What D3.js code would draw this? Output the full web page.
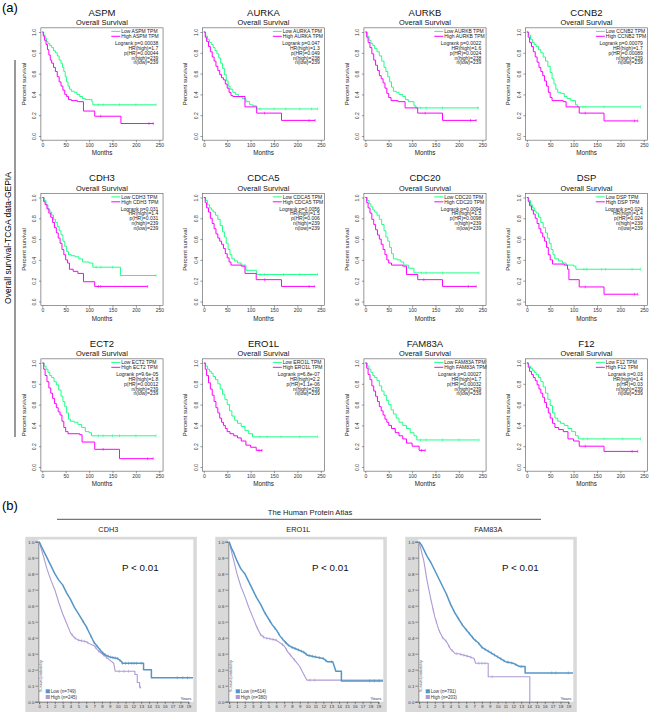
<!DOCTYPE html>
<html><head><meta charset="utf-8">
<script src="https://cdn.jsdelivr.net/npm/d3@7"></script>
<style>body{margin:0;background:#fff}svg{display:block;font-family:"Liberation Sans",Arial,sans-serif}</style>
</head><body><svg id="c" width="650" height="714"></svg>
<script>
// ---------- (a) GEPIA data ----------
const gepiaGenes = ["ASPM","AURKA","AURKB","CCNB2","CDH3","CDCA5","CDC20","DSP","ECT2","ERO1L","FAM83A","F12"];
const gepiaLogrank = ["0.00038","0.047","0.0022","0.00079","0.031","0.0056","0.0094","0.024","9.6e-05","6.8e-07","0.00027","0.03"];
const gepiaHR = ["1.7","1.3","1.6","1.7","1.4","1.5","1.5","1.4","1.8","2.2","1.7","1.4"];
const gepiaPHR = ["0.00044","0.049","0.0024","0.00089","0.031","0.006","0.0098","0.024","0.00012","1.1e-06","0.00032","0.03"];
const gepiaNHigh = ["239","238","238","239","239","239","239","239","239","239","239","239"];
const gepiaNLow = ["239","239","239","239","239","239","239","239","239","239","239","239"];
const gepiaXTicks = [0,50,100,150,200,250];
const gepiaYTicks = [0,0.2,0.4,0.6,0.8,1.0];

const gepiaLowCurves = [
 [[0,1],[3,0.97],[6,0.94],[9,0.91],[12,0.89],[16,0.87],[20,0.85],[24,0.82],[28,0.80],[32,0.77],[36,0.73],[40,0.70],[43,0.66],[46,0.62],[49,0.57],[52,0.52],[55,0.48],[58,0.45],[62,0.43],[68,0.42],[74,0.40],[80,0.38],[86,0.36],[92,0.35],[106,0.33],[108,0.30],[243,0.30]],
 [[0,1],[4,0.96],[8,0.93],[12,0.90],[16,0.88],[20,0.85],[24,0.82],[28,0.79],[32,0.75],[36,0.70],[40,0.65],[44,0.59],[48,0.53],[52,0.48],[56,0.45],[62,0.42],[68,0.40],[74,0.38],[82,0.36],[90,0.33],[98,0.30],[105,0.29],[113,0.26],[243,0.26]],
 [[0,1],[4,0.96],[8,0.92],[12,0.89],[16,0.87],[20,0.84],[25,0.81],[30,0.77],[35,0.72],[40,0.66],[44,0.62],[48,0.57],[52,0.52],[56,0.47],[60,0.43],[66,0.42],[72,0.40],[80,0.38],[86,0.35],[92,0.33],[104,0.29],[108,0.27],[243,0.27]],
 [[0,1],[4,0.97],[8,0.93],[12,0.90],[16,0.88],[20,0.86],[25,0.83],[30,0.80],[35,0.76],[40,0.72],[45,0.67],[50,0.61],[54,0.55],[58,0.50],[62,0.45],[66,0.42],[72,0.41],[80,0.38],[86,0.36],[94,0.34],[104,0.30],[108,0.28],[243,0.28]],
 [[0,1],[4,0.97],[8,0.93],[12,0.89],[16,0.86],[20,0.83],[24,0.79],[28,0.76],[32,0.72],[36,0.68],[40,0.64],[44,0.58],[48,0.53],[52,0.48],[56,0.45],[62,0.44],[70,0.43],[78,0.41],[86,0.38],[100,0.37],[108,0.33],[165,0.33],[167,0.25],[243,0.25]],
 [[0,1],[4,0.97],[8,0.93],[12,0.90],[16,0.88],[20,0.86],[25,0.83],[30,0.79],[35,0.73],[40,0.67],[44,0.62],[48,0.56],[52,0.50],[56,0.45],[60,0.41],[66,0.39],[72,0.37],[80,0.35],[90,0.30],[110,0.30],[113,0.26],[243,0.26]],
 [[0,1],[4,0.97],[8,0.94],[12,0.91],[16,0.88],[20,0.86],[25,0.83],[30,0.79],[35,0.74],[40,0.68],[44,0.62],[48,0.58],[52,0.52],[56,0.46],[60,0.41],[68,0.40],[76,0.38],[82,0.35],[92,0.32],[104,0.275],[243,0.275]],
 [[0,1],[4,0.97],[8,0.93],[12,0.90],[16,0.87],[20,0.85],[25,0.81],[30,0.76],[35,0.71],[40,0.66],[44,0.61],[48,0.56],[52,0.50],[56,0.45],[60,0.41],[68,0.39],[76,0.37],[84,0.35],[100,0.34],[105,0.31],[243,0.31]],
 [[0,1],[4,0.97],[8,0.94],[12,0.91],[16,0.88],[20,0.86],[25,0.82],[30,0.79],[35,0.74],[40,0.68],[44,0.63],[48,0.58],[52,0.52],[56,0.46],[60,0.44],[68,0.43],[76,0.41],[84,0.38],[92,0.34],[100,0.33],[105,0.30],[243,0.30]],
 [[0,1],[4,0.97],[8,0.94],[12,0.92],[16,0.90],[20,0.87],[25,0.84],[30,0.80],[35,0.75],[40,0.70],[45,0.65],[50,0.60],[55,0.54],[60,0.49],[66,0.45],[72,0.42],[80,0.39],[88,0.35],[96,0.32],[104,0.29],[243,0.29]],
 [[0,1],[4,0.97],[8,0.94],[12,0.91],[16,0.88],[20,0.86],[25,0.83],[30,0.78],[35,0.73],[40,0.69],[45,0.64],[50,0.60],[55,0.55],[60,0.51],[66,0.47],[72,0.43],[80,0.40],[88,0.37],[96,0.33],[104,0.30],[110,0.26],[243,0.26]],
 [[0,1],[4,0.97],[8,0.95],[12,0.93],[16,0.91],[20,0.89],[25,0.86],[30,0.82],[35,0.77],[40,0.71],[45,0.65],[50,0.59],[55,0.52],[60,0.47],[66,0.44],[72,0.42],[80,0.40],[88,0.37],[96,0.34],[104,0.30],[110,0.27],[243,0.27]]
];
const gepiaHighCurves = [
 [[0,1],[2,0.96],[5,0.92],[8,0.88],[11,0.83],[14,0.78],[17,0.73],[20,0.70],[24,0.66],[28,0.62],[32,0.57],[36,0.52],[40,0.48],[44,0.44],[48,0.40],[52,0.38],[56,0.35],[62,0.34],[75,0.33],[88,0.24],[112,0.19],[168,0.12],[238,0.12]],
 [[0,1],[3,0.95],[6,0.91],[10,0.86],[14,0.81],[18,0.76],[22,0.72],[26,0.67],[30,0.63],[34,0.59],[38,0.56],[42,0.54],[46,0.50],[50,0.46],[54,0.42],[58,0.39],[62,0.38],[88,0.28],[113,0.22],[166,0.15],[238,0.15]],
 [[0,1],[3,0.95],[6,0.90],[10,0.85],[14,0.79],[18,0.73],[22,0.68],[26,0.63],[30,0.58],[34,0.55],[38,0.51],[42,0.46],[46,0.41],[50,0.37],[55,0.34],[70,0.33],[85,0.27],[112,0.22],[165,0.15],[237,0.15]],
 [[0,1],[3,0.95],[6,0.90],[10,0.86],[14,0.81],[18,0.76],[22,0.71],[26,0.66],[30,0.62],[34,0.58],[38,0.53],[42,0.48],[46,0.42],[50,0.37],[54,0.34],[78,0.33],[84,0.28],[112,0.22],[165,0.145],[237,0.145]],
 [[0,1],[3,0.96],[6,0.93],[10,0.89],[14,0.85],[18,0.81],[22,0.76],[26,0.71],[30,0.66],[34,0.61],[38,0.56],[42,0.50],[46,0.45],[50,0.40],[54,0.37],[58,0.31],[66,0.29],[76,0.27],[88,0.19],[112,0.145],[225,0.145]],
 [[0,1],[3,0.95],[6,0.90],[10,0.86],[14,0.80],[18,0.75],[22,0.70],[26,0.65],[30,0.61],[34,0.58],[38,0.55],[42,0.51],[46,0.46],[50,0.42],[54,0.38],[58,0.35],[80,0.34],[88,0.27],[112,0.21],[166,0.145],[237,0.145]],
 [[0,1],[3,0.95],[6,0.90],[10,0.85],[14,0.79],[18,0.74],[22,0.69],[26,0.64],[30,0.60],[34,0.55],[38,0.50],[42,0.45],[46,0.40],[50,0.37],[56,0.35],[80,0.34],[88,0.26],[112,0.21],[165,0.145],[237,0.145]],
 [[0,1],[3,0.96],[6,0.92],[10,0.88],[14,0.84],[18,0.80],[22,0.75],[26,0.70],[30,0.66],[34,0.62],[38,0.58],[42,0.52],[46,0.45],[50,0.40],[55,0.36],[80,0.35],[87,0.31],[90,0.21],[112,0.14],[165,0.07],[237,0.07]],
 [[0,1],[3,0.94],[6,0.88],[10,0.82],[14,0.76],[18,0.71],[22,0.66],[26,0.61],[30,0.57],[34,0.53],[38,0.50],[42,0.44],[46,0.38],[50,0.34],[55,0.32],[80,0.31],[85,0.24],[112,0.17],[165,0.08],[237,0.08]],
 [[0,1],[3,0.94],[6,0.88],[10,0.81],[14,0.75],[18,0.69],[22,0.63],[26,0.57],[30,0.52],[34,0.47],[38,0.43],[42,0.40],[46,0.37],[50,0.34],[56,0.32],[64,0.30],[72,0.28],[80,0.25],[90,0.21],[100,0.19],[112,0.16],[125,0.16]],
 [[0,1],[3,0.95],[6,0.89],[10,0.84],[14,0.78],[18,0.73],[22,0.68],[26,0.63],[30,0.58],[34,0.54],[38,0.50],[42,0.46],[46,0.43],[50,0.40],[56,0.37],[64,0.33],[72,0.30],[80,0.27],[88,0.23],[100,0.20],[115,0.16],[128,0.16]],
 [[0,1],[3,0.96],[6,0.92],[10,0.89],[14,0.86],[18,0.83],[22,0.79],[26,0.75],[30,0.71],[34,0.67],[38,0.62],[42,0.57],[46,0.52],[50,0.47],[55,0.42],[60,0.38],[68,0.36],[78,0.34],[88,0.27],[100,0.25],[112,0.20],[165,0.15],[237,0.15]]
];
const gepiaLowCensor = [
 [120,130,165,200,243],[120,150,175,205,230,243],[118,130,165,240],[120,125,165,243],
 [115,125,150,243],[120,130,170,205,243],[120,130,165,243],[122,128,160,168,225,243],
 [120,130,150,165,200,243],[120,135,165,205,243],[118,130,165,200,243],[120,130,165,205,243]
];
const gepiaHighCensor = [
 [125,228,237],[130,225,238],[128,225,237],[125,230,237],[120,125,225],[130,225,237],
 [125,220,237],[125,230,237],[130,225,237],[118,124],[120,128],[125,225,237]
];

// ---------- (b) HPA data (equal times mark a visible drop) ----------
const hpaGenes = ["CDH3","ERO1L","FAM83A"];
const hpaLowN = ["749","614","791"];
const hpaHighN = ["245","380","203"];
const hpaXTicks = d3.range(0,20);
const hpaYTicks = [0,0.1,0.2,0.3,0.4,0.5,0.6,0.7,0.8,0.9,1.0];
const hpaLowCurves = [
 [[0,1],[0.3,0.97],[0.6,0.94],[1,0.90],[1.5,0.85],[2,0.80],[2.5,0.76],[3,0.73],[3.5,0.68],[4,0.64],[4.5,0.59],[5,0.55],[5.5,0.51],[6,0.47],[6.5,0.42],[7,0.37],[7.5,0.34],[8,0.31],[8.5,0.29],[9,0.28],[10,0.27],[10.5,0.25],[10.6,0.24],[13.3,0.24],[13.3,0.20],[14.3,0.20],[14.3,0.15],[19.6,0.15]],
 [[0,1],[0.3,0.96],[0.6,0.93],[1,0.88],[1.5,0.83],[2,0.80],[2.5,0.75],[3,0.70],[3.5,0.65],[4,0.61],[4.5,0.56],[5,0.52],[5.5,0.48],[6,0.45],[6.5,0.41],[7,0.38],[7.5,0.355],[8,0.34],[9,0.32],[9.5,0.31],[10,0.29],[11,0.28],[12,0.27],[12.5,0.25],[13.2,0.25],[13.6,0.19],[14.3,0.19],[14.3,0.13],[19.6,0.13]],
 [[0,1],[0.3,0.98],[0.6,0.95],[1,0.91],[1.5,0.87],[2,0.82],[2.5,0.77],[3,0.72],[3.5,0.67],[4,0.61],[4.5,0.56],[5,0.52],[5.5,0.48],[6,0.45],[6.5,0.42],[7,0.39],[7.5,0.37],[8,0.34],[9,0.31],[10,0.28],[11,0.25],[12,0.24],[12.8,0.22],[13.5,0.22],[13.5,0.18],[19.6,0.18]]
];
const hpaHighCurves = [
 [[0,1],[0.3,0.95],[0.6,0.90],[1,0.83],[1.5,0.76],[2,0.70],[2.5,0.62],[3,0.55],[3.5,0.49],[4,0.43],[4.5,0.40],[5,0.385],[6,0.375],[6.5,0.36],[7,0.35],[7.5,0.32],[8,0.30],[8.5,0.28],[9,0.26],[9.5,0.24],[9.7,0.19],[12.2,0.19],[12.2,0.17],[12.5,0.17],[12.5,0.12],[12.8,0.12],[12.8,0.09],[13,0.09]],
 [[0,1],[0.3,0.94],[0.6,0.88],[1,0.80],[1.5,0.72],[2,0.66],[2.5,0.59],[3,0.53],[3.5,0.47],[4,0.42],[4.5,0.40],[5,0.395],[6,0.385],[7,0.35],[7.5,0.31],[8,0.28],[8.5,0.25],[9,0.22],[9.3,0.19],[9.9,0.135],[19.6,0.135]],
 [[0,1],[0.3,0.94],[0.6,0.88],[1,0.76],[1.5,0.64],[2,0.53],[2.5,0.45],[3,0.40],[3.5,0.375],[4,0.33],[4.6,0.30],[5,0.30],[6.5,0.28],[7,0.27],[7.2,0.24],[8.8,0.24],[8.8,0.156],[14.1,0.156],[14.1,0]]
];
const hpaLowCensor = [
 [5.6,6.1,6.6,7.0,7.4,7.8,8.1,8.4,8.8,9.1,9.4,9.7,10.0,10.3,10.6,11.0,11.4,11.8,12.1,12.4,13.0,17.6,18.3,18.9],
 [4.6,5.2,5.8,6.3,6.8,7.2,7.6,8.0,8.4,8.8,9.2,9.5,9.8,10.2,10.6,11.0,11.5,12.0,12.3,13.0,17.9,18.5,19.1],
 [3.5,4.0,4.5,5.0,5.5,6.0,6.4,6.8,7.2,7.6,8.0,8.4,8.8,9.2,9.6,10.0,10.4,10.8,11.3,11.8,12.3,13.0,16.9,17.4,19.0]
];
const hpaHighCensor = [
 [4.2,4.6,5.0,5.4,5.8,6.2,7.2,7.6,8.2,8.6,10.2,10.8,11.4,12.9],
 [3.6,4.0,4.4,4.8,5.2,5.6,6.0,6.8,7.3,7.8,8.3,10.3,10.9],
 [1.8,2.2,2.6,3.0,3.4,3.8,4.2,4.8,5.3,5.7,6.1,6.6,7.6,8.0,8.4,9.3]
];

// ---------- drawing ----------
const svg = d3.select("#c");
const GREEN = "#22ff88", MAG = "#ff00ff";
const HBLUE = "#5596c8", HPURP = "#ad9bd4";
function stepAt(curve, t){ let s = 1; for (const [tt, ss] of curve){ if (tt <= t) s = ss; else break; } return s; }
function linAt(curve, t){
  for (let k = 1; k < curve.length; k++){
    const [t0, s0] = curve[k-1], [t1, s1] = curve[k];
    if (t >= t0 && t <= t1){ return t1 === t0 ? s1 : s0 + (s1 - s0) * (t - t0) / (t1 - t0); }
  }
  return curve[curve.length-1][1];
}

svg.append("text").attr("x",2).attr("y",12).attr("font-size",13).text("(a)");
svg.append("line").attr("x1",15).attr("x2",15).attr("y1",60).attr("y2",437).attr("stroke","#333").attr("stroke-width",1);
svg.append("text").attr("transform","translate(11,238) rotate(-90)").attr("text-anchor","middle")
  .attr("font-size",8.5).text("Overall survival-TCGA data-GEPIA");

gepiaGenes.forEach((g, i) => {
  const col = i % 4, row = Math.floor(i / 4);
  const ox = 42.3 + col * 161.5, oy = 32 + row * 165.5;
  const x = d3.scaleLinear().domain([0, 250]).range([ox, ox + 117]);
  const y = d3.scaleLinear().domain([0, 1]).range([oy + 104, oy]);
  const gp = svg.append("g");
  const bl = x(-3), br = x(258), bt = y(1.04), bb = y(-0.04);
  gp.append("rect").attr("x", bl).attr("y", bt).attr("width", br - bl).attr("height", bb - bt)
    .attr("fill", "none").attr("stroke", "#555").attr("stroke-width", 0.6);
  const xa = gp.append("g").attr("transform", `translate(0,${bb})`)
    .call(d3.axisBottom(x).tickValues(gepiaXTicks).tickSize(2).tickPadding(1.2));
  const ya = gp.append("g").attr("transform", `translate(${bl},0)`)
    .call(d3.axisLeft(y).tickValues(gepiaYTicks).tickSize(2).tickFormat(d3.format(".1f")));
  [xa, ya].forEach(a => {
    a.select(".domain").remove();
    a.selectAll("line").attr("stroke", "#555").attr("stroke-width", 0.6);
    a.selectAll("text").attr("font-size", 5).attr("fill", "#333").attr("font-family", null);
  });
  ya.selectAll("text").attr("x", null).attr("dy", null).attr("text-anchor", "middle")
    .attr("transform", "translate(-4.8,0) rotate(-90)");
  gp.append("text").attr("x", (bl + br) / 2).attr("y", bb + 15).attr("text-anchor", "middle").attr("font-size", 6.3).attr("fill", "#222").text("Months");
  gp.append("text").attr("transform", `translate(${bl - 15},${y(0.5)}) rotate(-90)`).attr("text-anchor", "middle").attr("font-size", 6).attr("fill", "#222").text("Percent survival");
  gp.append("text").attr("x", (bl + br) / 2).attr("y", oy - 16.5).attr("text-anchor", "middle").attr("font-size", 9.5).attr("fill", "#111").text(g);
  gp.append("text").attr("x", (bl + br) / 2).attr("y", oy - 6.8).attr("text-anchor", "middle").attr("font-size", 7.4).attr("fill", "#111").text("Overall Survival");

  const line = d3.line().x(d => x(d[0])).y(d => y(d[1])).curve(d3.curveStepAfter);
  [[gepiaLowCurves[i], gepiaLowCensor[i], GREEN], [gepiaHighCurves[i], gepiaHighCensor[i], MAG]].forEach(([c, cen, col]) => {
    gp.append("path").datum(c).attr("d", line).attr("fill", "none").attr("stroke", col).attr("stroke-width", 1);
    gp.selectAll(null).data(cen).enter().append("line")
      .attr("x1", d => x(d)).attr("x2", d => x(d))
      .attr("y1", d => y(stepAt(c, d)) - 1.4).attr("y2", d => y(stepAt(c, d)) + 1.4)
      .attr("stroke", col).attr("stroke-width", 0.6);
  });

  // legend
  const lg = [[`Low ${g} TPM`, GREEN], [`High ${g} TPM`, MAG]];
  lg.forEach(([t, c], k) => {
    const yy = oy - 0.6 + k * 4.9;
    gp.append("line").attr("x1", ox + 69).attr("x2", ox + 78).attr("y1", yy).attr("y2", yy).attr("stroke", c).attr("stroke-width", 1);
    gp.append("text").attr("x", ox + 79).attr("y", yy + 1.7).attr("font-size", 5).attr("fill", "#222").text(t);
  });
  const stats = [`Logrank p=${gepiaLogrank[i]}`, `HR(high)=${gepiaHR[i]}`, `p(HR)=${gepiaPHR[i]}`, `n(high)=${gepiaNHigh[i]}`, `n(low)=${gepiaNLow[i]}`];
  stats.forEach((t, k) => {
    gp.append("text").attr("x", ox + 116).attr("y", oy + 13 + k * 4.85).attr("text-anchor", "end").attr("font-size", 5).attr("fill", "#222").text(t);
  });
});

// ---------- (b) ----------
svg.append("text").attr("x", 2).attr("y", 510).attr("font-size", 13).text("(b)");
svg.append("line").attr("x1", 57).attr("x2", 541).attr("y1", 519.3).attr("y2", 519.3).attr("stroke", "#555").attr("stroke-width", 1);
svg.append("text").attr("x", 310).attr("y", 514.5).attr("text-anchor", "middle").attr("font-size", 7.6).attr("fill", "#222").text("The Human Protein Atlas");

hpaGenes.forEach((g, i) => {
  const px = 38.3 + i * 190;
  const gp = svg.append("g");
  const x = d3.scaleLinear().domain([0, 19]).range([px + 0.8, px + 150]);
  const y = d3.scaleLinear().domain([0, 1]).range([701.7, 541.7]);
  gp.append("text").attr("x", px + 70).attr("y", 532).attr("text-anchor", "middle").attr("font-size", 7.3).attr("fill", "#222").text(g);
  gp.append("rect").attr("x", px - 13).attr("y", 536.8).attr("width", 171.5).attr("height", 175.2).attr("fill", "#d9d9d9");
  gp.append("rect").attr("x", px).attr("y", 539.5).attr("width", 155).attr("height", 162.2).attr("fill", "#fff");
  const ya = gp.append("g").attr("transform", `translate(${px},0)`)
    .call(d3.axisLeft(y).tickValues(hpaYTicks).tickSize(3).tickPadding(1).tickFormat(d3.format(".1f")));
  const xa = gp.append("g").attr("transform", `translate(0,701.7)`)
    .call(d3.axisBottom(x).tickValues(hpaXTicks).tickSize(2.5).tickPadding(1));
  [xa, ya].forEach(a => {
    a.select(".domain").attr("stroke", "#555").attr("stroke-width", 0.7);
    a.selectAll("line").attr("stroke", "#555").attr("stroke-width", 0.6);
    a.selectAll("text").attr("font-size", 4.3).attr("fill", "#333").attr("font-family", null);
  });
  const line = d3.line().x(d => x(d[0])).y(d => y(d[1]));
  [[hpaHighCurves[i], hpaHighCensor[i], HPURP, 1.1], [hpaLowCurves[i], hpaLowCensor[i], HBLUE, 1.5]].forEach(([c, cen, col, w]) => {
    gp.append("path").datum(c).attr("d", line).attr("fill", "none").attr("stroke", col).attr("stroke-width", w).attr("stroke-linejoin", "round");
    gp.selectAll(null).data(cen).enter().append("line")
      .attr("x1", d => x(d)).attr("x2", d => x(d))
      .attr("y1", d => y(linAt(c, d)) - 1.5).attr("y2", d => y(linAt(c, d)) + 1.5)
      .attr("stroke", col).attr("stroke-width", 0.6);
  });
  gp.append("text").attr("x", px + 102).attr("y", 570.5).attr("text-anchor", "middle").attr("font-size", 9.8).attr("fill", "#111").text("P < 0.01");
  // legend
  [[`Low (n=${hpaLowN[i]})`, HBLUE], [`High (n=${hpaHighN[i]})`, HPURP]].forEach(([t, c], k) => {
    const yy = 689.3 + k * 5.7;
    gp.append("rect").attr("x", px + 7.4).attr("y", yy).attr("width", 4.2).attr("height", 4).attr("fill", c);
    gp.append("text").attr("x", px + 12.5).attr("y", yy + 3.6).attr("font-size", 4.5).attr("fill", "#333").text(t);
  });
  gp.append("text").attr("transform", `translate(${px + 3.5},${676}) rotate(-90)`).attr("text-anchor", "middle").attr("font-size", 3.8).attr("fill", "#555").text("Survival probability");
  gp.append("text").attr("x", px + 153).attr("y", 700).attr("text-anchor", "end").attr("font-size", 4.3).attr("fill", "#333").text("Years");
});
</script></body></html>
